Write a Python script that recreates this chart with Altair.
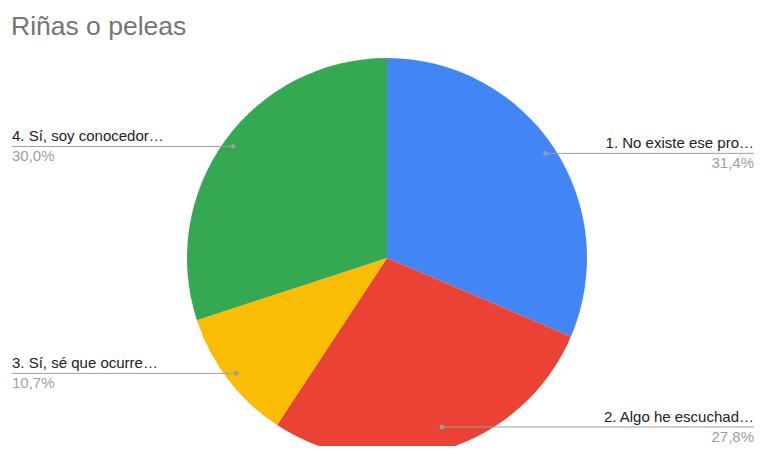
import altair as alt
import pandas as pd

title_text = "Riñas o peleas"
categories = ["1. No existe ese pro…", "2. Algo he escuchad…", "3. Sí, sé que ocurre…", "4. Sí, soy conocedor…"]
values = [31.4, 27.8, 10.7, 30.0]
pct_labels = ["31,4%", "27,8%", "10,7%", "30,0%"]
colors = ["#4285F4", "#EA4335", "#FBBC04", "#34A853"]

df = pd.DataFrame({"cat": categories, "v": values, "pct": pct_labels, "order": list(range(len(categories)))})

W, H = 747, 438
CX, CY, R, LR = 379, 250, 200, 190
XR, XL = 746, 4
FONT = "Liberation Sans, Arial, sans-serif"

base = alt.Chart(df)

pie = base.mark_arc(outerRadius=R).encode(
    theta=alt.Theta("v:Q", stack=True),
    color=alt.Color("cat:N", scale=alt.Scale(domain=categories, range=colors), legend=None),
    order=alt.Order("order:Q"),
    x=alt.value(CX),
    y=alt.value(CY),
)

pos = base.transform_joinaggregate(total="sum(v)").transform_window(
    cum="sum(v)", sort=[alt.SortField("order")], frame=[None, 0]
).transform_calculate(
    mid="(datum.cum - datum.v/2)/datum.total",
).transform_calculate(
    px=f"{CX} + {LR}*sin(2*PI*datum.mid)",
    py=f"min({CY} - {LR}*cos(2*PI*datum.mid), {H - 19})",
).transform_calculate(
    ex=f"datum.px > {CX} ? {XR} : {XL}",
    lab_y="datum.py - 5",
    pct_y="datum.py + 15",
)

X = alt.X("px:Q", scale=None, axis=None)
Y = alt.Y("py:Q", scale=None, axis=None)
YL = alt.Y("lab_y:Q", scale=None, axis=None)
YP = alt.Y("pct_y:Q", scale=None, axis=None)

rules = pos.mark_rule(color="#9e9e9e", strokeWidth=1).encode(x=X, x2="ex:Q", y=Y)
dots = pos.mark_circle(size=22, color="#9e9e9e", opacity=1).encode(x=X, y=Y)

right = pos.transform_filter(f"datum.px > {CX}")
left = pos.transform_filter(f"datum.px <= {CX}")

txt = dict(baseline="alphabetic", fontSize=15, font=FONT)
r_lab = right.mark_text(align="right", color="#222222", **txt).encode(x=alt.value(XR), y=YL, text="cat:N")
r_pct = right.mark_text(align="right", color="#9e9e9e", **txt).encode(x=alt.value(XR), y=YP, text="pct:N")
l_lab = left.mark_text(align="left", color="#222222", **txt).encode(x=alt.value(XL), y=YL, text="cat:N")
l_pct = left.mark_text(align="left", color="#9e9e9e", **txt).encode(x=alt.value(XL), y=YP, text="pct:N")

title = alt.Chart(pd.DataFrame({"t": [title_text]})).mark_text(
    align="left", baseline="alphabetic", fontSize=26.5, font=FONT, color="#757575"
).encode(x=alt.value(3), y=alt.value(27), text="t:N")

chart = alt.layer(pie, rules, dots, r_lab, r_pct, l_lab, l_pct, title).properties(
    width=W, height=H, autosize=alt.AutoSizeParams(type="none"), padding=0
).configure_view(stroke=None)

chart.save("out.html", embed_options={"renderer": "svg", "actions": False})
